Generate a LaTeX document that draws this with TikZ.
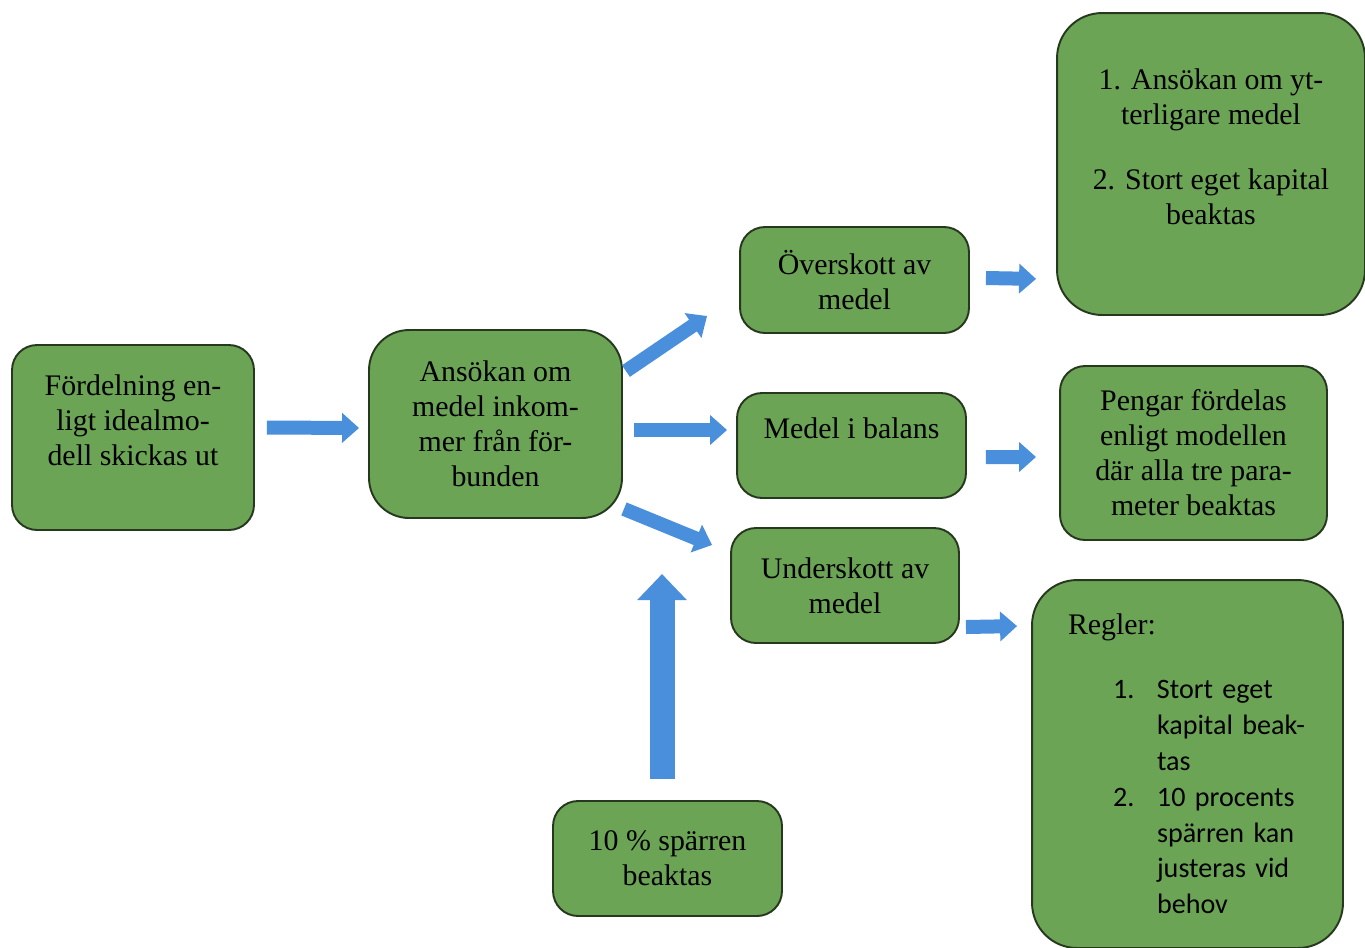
\documentclass[tikz,border=0pt]{standalone}
\usepackage{fontspec}
\setmainfont{Liberation Serif}
\newfontfamily\calibri{Carlito}
\usepackage{tikz}
\usetikzlibrary{arrows.meta, positioning, calc}
\definecolor{boxgreen}{RGB}{108,164,86}
\definecolor{boxline}{RGB}{38,56,30}
\definecolor{pilblue}{RGB}{74,143,220}

\begin{document}
\begin{tikzpicture}[x=0.02cm, y=-0.02cm,
  box/.style={draw=boxline, fill=boxgreen, line width=1.1pt, rounded corners=0.5cm,
    align=center, inner sep=0pt, font=\fontsize{17}{19.9}\selectfont},
  pil/.style={draw=pilblue, line width=0.28cm, -{Triangle[width=0.58cm,length=0.34cm]}},
  storpil/.style={draw=pilblue, line width=0.5cm, -{Triangle[width=0.96cm,length=0.52cm]}}]
\useasboundingbox (0,0) rectangle (1365,947);

% boxes
\node[box, minimum width=4.84cm, minimum height=3.70cm] (fordelning) at (133,437.5) {Fördelning en-\\ligt idealmo-\\dell skickas ut\\~};
\node[box, rounded corners=0.8cm, minimum width=5.06cm, minimum height=3.76cm] (ansokan) at (495.5,424) {Ansökan om\\medel inkom-\\mer från för-\\bunden};
\node[box, minimum width=4.58cm, minimum height=2.12cm] (overskott) at (854.5,280) {Överskott av\\medel};
\node[box, minimum width=4.58cm, minimum height=2.10cm] (balans) at (851.5,445.5) {Medel i balans\\~};
\node[box, minimum width=4.56cm, minimum height=2.30cm] (underskott) at (845,585.5) {Underskott av\\medel};
\node[box, rounded corners=0.9cm, minimum width=6.16cm, minimum height=6.04cm] (ytterligare) at (1211,164) {1. Ansökan om yt-\\terligare medel\\[0.6cm]2. Stort eget kapital\\beaktas\\~};
\node[box, minimum width=5.34cm, minimum height=3.48cm] (pengar) at (1193.5,453) {Pengar fördelas\\enligt modellen\\där alla tre para-\\meter beaktas};
\node[box, minimum width=4.58cm, minimum height=2.30cm] (sparr) at (667.5,858.5) {10 \% spärren\\beaktas};
\node[box, rounded corners=0.9cm, align=left, text width=4.78cm, minimum width=6.22cm, minimum height=7.36cm,
  font=\calibri\fontsize{16}{20.4}\selectfont] (regler) at (1187.5,764) {{\rmfamily\fontsize{17}{20.4}\selectfont Regler:}\\[0.56cm]
\hspace*{0.9cm}\makebox[0.88cm][l]{1.}Stort eget\\
\hspace*{1.78cm}kapital beak-\\
\hspace*{1.78cm}tas\\
\hspace*{0.9cm}\makebox[0.88cm][l]{2.}10 procents\\
\hspace*{1.78cm}spärren kan\\
\hspace*{1.78cm}justeras vid\\
\hspace*{1.78cm}behov};

% arrows
\coordinate (uppil) at (662,574);
\draw[pil] ([shift={(12,-10)}]fordelning.east) -- ([shift={(-9,4)}]ansokan.west);
\draw[pil] ([shift={(3,42)}]ansokan.north east) -- ([shift={(-32,36)}]overskott.west);
\draw[pil] ([shift={(11,6)}]ansokan.east) -- ([shift={(-9,-15.5)}]balans.west);
\draw[pil] ([shift={(1,-10)}]ansokan.south east) -- ([shift={(-18,-40.5)}]underskott.west);
\draw[pil] ([shift={(16,-2)}]overskott.east) -- ([shift={(-20,-37)}]ytterligare.south west);
\draw[pil] ([shift={(19,11.5)}]balans.east) -- ([shift={(-23,4)}]pengar.west);
\draw[pil] ([shift={(6,41.5)}]underskott.east) -- ([shift={(-14,47)}]regler.north west);
\draw[storpil] ([shift={(-5.5,-21)}]sparr.north) -- (uppil);
\end{tikzpicture}
\end{document}
